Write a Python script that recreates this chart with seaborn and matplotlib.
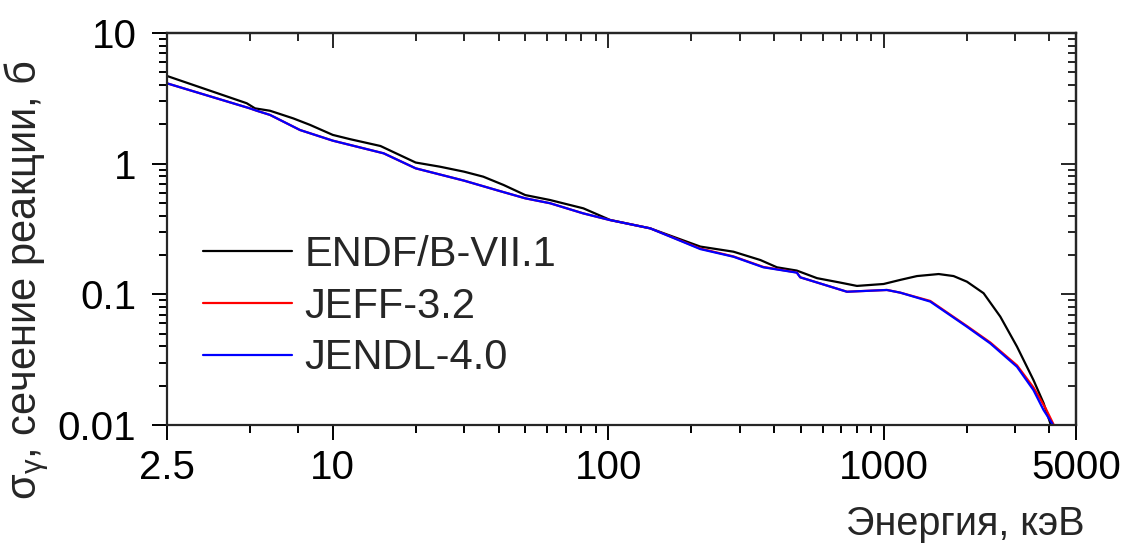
import numpy as np
import pandas as pd
import matplotlib.pyplot as plt
import seaborn as sns
from matplotlib.ticker import NullFormatter

# --- data (energy in keV, cross-section in barn) ---
libs = ['ENDF/B-VII.1', 'JEFF-3.2', 'JENDL-4.0']
colors = ['black', '#ff0000', '#0000ff']

endf_e = [2.5, 4.87, 5.22, 5.92, 7.19, 8.27, 10, 11.55, 14.9, 20, 24.5, 30, 35.2,
          41.7, 50, 61.5, 81.3, 101.6, 142, 216, 285, 357, 410, 484, 573, 696,
          800, 1000, 1150, 1322, 1585, 1795, 2007, 2307, 2653, 3050, 3500, 3810,
          4030, 4100]
endf_s = [4.69, 2.90, 2.65, 2.54, 2.22, 1.98, 1.66, 1.54, 1.365, 1.02, 0.948, 0.868,
          0.795, 0.687, 0.575, 0.527, 0.455, 0.371, 0.320, 0.232, 0.212, 0.183,
          0.161, 0.152, 0.133, 0.123, 0.116, 0.120, 0.129, 0.138, 0.143, 0.138,
          0.125, 0.102, 0.0675, 0.0398, 0.0221, 0.0147, 0.0103, 0.0085]

jeff_e = [2.5, 5.0, 5.3, 5.92, 7.6, 10, 15.3, 20, 30, 40, 50, 61.5, 81, 101, 142,
          216, 285, 366, 484, 498, 736, 1028, 1150, 1477, 2007, 2440, 3050, 3500,
          3877, 4150, 4250]
jeff_s = [4.12, 2.65, 2.54, 2.36, 1.81, 1.50, 1.20, 0.921, 0.741, 0.621, 0.543,
          0.498, 0.417, 0.371, 0.320, 0.224, 0.195, 0.162, 0.147, 0.135, 0.1047,
          0.108, 0.103, 0.089, 0.0572, 0.0428, 0.0286, 0.0194, 0.0134, 0.0100, 0.009]

jendl_e = [2.5, 5.0, 5.3, 5.92, 7.6, 10, 15.3, 20, 30, 40, 50, 61.5, 81, 101, 142,
           216, 285, 366, 484, 498, 736, 1028, 1150, 1477, 2007, 2440, 3050, 3500,
           3810, 4090, 4200]
jendl_s = [4.12, 2.65, 2.54, 2.36, 1.81, 1.50, 1.20, 0.921, 0.741, 0.621, 0.543,
           0.498, 0.417, 0.371, 0.320, 0.222, 0.194, 0.161, 0.1466, 0.135, 0.1047,
           0.108, 0.103, 0.088, 0.0565, 0.0421, 0.0279, 0.0185, 0.0130, 0.0103, 0.009]

x_major = [2.5, 10, 100, 1000, 5000]
x_major_labels = ['2.5', '10', '100', '1000', '5000']
x_minor = [5, 7.5] + [k * 10 for k in range(2, 10)] + [k * 100 for k in range(2, 10)] \
    + [2000, 3000, 4000]
y_major = [0.01, 0.1, 1, 10]
y_major_labels = ['0.01', '0.1', '1', '10']
y_minor = [k * 10.0 ** d for d in (-2, -1, 0) for k in range(2, 10)]

df = pd.concat([
    pd.DataFrame({'E': endf_e, 'sigma': endf_s, 'lib': libs[0]}),
    pd.DataFrame({'E': jeff_e, 'sigma': jeff_s, 'lib': libs[1]}),
    pd.DataFrame({'E': jendl_e, 'sigma': jendl_s, 'lib': libs[2]}),
], ignore_index=True)

# --- style ---
sns.set_style('ticks')
plt.rcParams['font.family'] = ['Liberation Sans', 'DejaVu Sans']
plt.rcParams['axes.linewidth'] = 1.6

fig, ax = plt.subplots(figsize=(11.28, 5.47), dpi=100)
fig.subplots_adjust(left=0.148, right=0.954, top=0.9397, bottom=0.223)

sns.lineplot(data=df, x='E', y='sigma', hue='lib', hue_order=libs, palette=colors,
             estimator=None, sort=False, lw=1.6, ax=ax)

ax.set_xscale('log')
ax.set_yscale('log')
ax.set_xlim(2.5, 5000)
ax.set_ylim(0.01, 10)

ax.set_xticks(x_major, labels=x_major_labels, fontsize=29)
ax.set_xticks(x_minor, minor=True)
ax.set_yticks(y_major, labels=y_major_labels, fontsize=29)
ax.set_yticks(y_minor, minor=True)
ax.xaxis.set_minor_formatter(NullFormatter())
ax.yaxis.set_minor_formatter(NullFormatter())

ax.tick_params(which='both', direction='out', width=1.4, colors='black')
ax.tick_params(which='major', length=11)
ax.tick_params(which='minor', length=6)
ax.tick_params(axis='x', which='major', pad=6)
ax.tick_params(axis='y', which='major', pad=11)

# mirrored top/right axes with inward ticks
top = ax.secondary_xaxis('top')
top.set_xticks(x_major)
top.set_xticks(x_minor, minor=True)
top.xaxis.set_minor_formatter(NullFormatter())
top.tick_params(which='both', direction='in', width=1.4, labeltop=False)
top.tick_params(which='major', length=11)
top.tick_params(which='minor', length=6)

right = ax.secondary_yaxis('right')
right.set_yticks(y_major)
right.set_yticks(y_minor, minor=True)
right.yaxis.set_minor_formatter(NullFormatter())
right.tick_params(which='both', direction='in', width=1.4, labelright=False)
right.tick_params(which='major', length=11)
right.tick_params(which='minor', length=6)

ax.set_xlabel('Энергия, кэВ', fontsize=28.5, ha='right', va='baseline')
ax.xaxis.set_label_coords(1.0099, -0.2806)
ax.set_ylabel('σ$_{\\mathregular{γ}}$, сечение реакции, б', fontsize=30)
ax.yaxis.set_label_coords(-0.127, 0.37)

sns.move_legend(ax, loc='upper left', bbox_to_anchor=(0.0396, 0.4855), title=None,
                frameon=False, fontsize=30, borderaxespad=0, borderpad=0,
                handlelength=2.13, handletextpad=0.31, labelspacing=0.285)
for line in ax.get_legend().get_lines():
    line.set_linewidth(1.6)

plt.savefig('out.png', dpi=100)
